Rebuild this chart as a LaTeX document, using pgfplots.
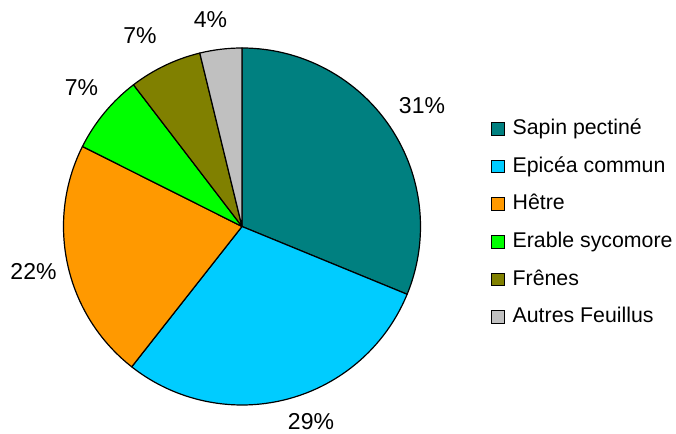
\documentclass[border=0pt]{standalone}
\usepackage{pgfplots}
\usepackage{pgfplotstable}
\pgfplotsset{compat=1.18}
\usepackage{fontspec}
\setmainfont{Liberation Sans}
\definecolor{sapin}{HTML}{008080}
\definecolor{epicea}{HTML}{00CCFF}
\definecolor{hetre}{HTML}{FF9900}
\definecolor{erable}{HTML}{00FF00}
\definecolor{frene}{HTML}{808000}
\definecolor{autres}{HTML}{C0C0C0}
% value (percent), colour, label centre in picture pixels (y from top)
\pgfplotstableread{
value col lx ly
31.2 sapin 422 106
29.4 epicea 311 421.5
21.8 hetre 33.5 272
7.2 erable 81.5 88
6.6 frene 140 36
3.8 autres 210.5 19.5
}\piedata
\begin{document}
\begin{tikzpicture}
\begin{axis}[
  hide axis, x=1pt, y=1pt, xmin=0, xmax=676, ymin=0, ymax=433,
  scale only axis, clip=false,
  legend cell align=left,
  legend image code/.code={\draw[#1, line width=1pt] (0pt,-6pt) rectangle (12.5pt,6.5pt);},
  legend style={draw=none, fill=none, inner sep=0pt,
    at={(axis description cs:0.7263,0.7252)}, anchor=north west,
    font=\fontsize{21.3}{25}\selectfont, row sep=17.4pt,
    /tikz/every even column/.append style={column sep=0pt},
    nodes={inner sep=0pt, text height=15.5pt, text depth=4.7pt}},
]
\addlegendimage{fill=sapin}\addlegendentry{\hspace{8pt}Sapin pectiné}
\addlegendimage{fill=epicea}\addlegendentry{\hspace{8pt}Epicéa commun}
\addlegendimage{fill=hetre}\addlegendentry{\hspace{8pt}Hêtre}
\addlegendimage{fill=erable}\addlegendentry{\hspace{8pt}Erable sycomore}
\addlegendimage{fill=frene}\addlegendentry{\hspace{8pt}Frênes}
\addlegendimage{fill=autres}\addlegendentry{\hspace{8pt}Autres Feuillus}
\pgfplotsextra{
  \path (axis cs:0,0) rectangle (axis cs:676,433);
  \def\cum{0}
  \pgfplotsforeachungrouped \i in {0,...,5}{%
    \pgfplotstablegetelem{\i}{value}\of\piedata \let\sval\pgfplotsretval
    \pgfplotstablegetelem{\i}{col}\of\piedata \let\scol\pgfplotsretval
    \pgfplotstablegetelem{\i}{lx}\of\piedata \let\slx\pgfplotsretval
    \pgfplotstablegetelem{\i}{ly}\of\piedata \let\sly\pgfplotsretval
    \pgfmathsetmacro\angA{90-3.6*\cum}
    \pgfmathsetmacro\angB{90-3.6*(\cum+\sval)}
    \filldraw[fill=\scol, draw=black, line width=1.2pt, line join=round]
      (axis cs:242,206.5) -- ++(\angA:178.5pt)
      arc[start angle=\angA, end angle=\angB, radius=178.5pt] -- cycle;
    \pgfmathsetmacro\cum{\cum+\sval}
    \pgfmathsetmacro\syy{433-\sly}
    \node[font=\fontsize{23}{27}\selectfont, inner sep=0pt] at (axis cs:\slx,\syy)
      {\pgfmathprintnumber[fixed,precision=0,assume math mode=true]{\sval}\%};
  }
}
\end{axis}
\end{tikzpicture}
\end{document}
